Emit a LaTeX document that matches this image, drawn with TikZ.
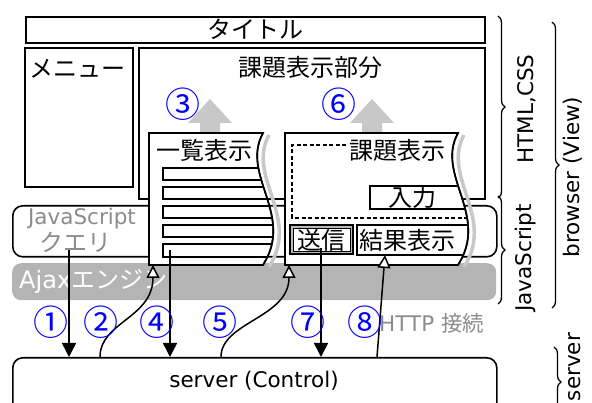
\documentclass[tikz,border=0pt]{standalone}
\usepackage{fontspec}
\setmainfont{DejaVu Sans}
\newfontfamily\jp{Noto Sans CJK JP}
\usetikzlibrary{arrows.meta,decorations.pathreplacing}
\definecolor{ajaxgray}{HTML}{B4B4B4}
\definecolor{txtgray}{HTML}{8C8C8C}
\definecolor{upgray}{HTML}{C8C8C8}
\begin{document}
\begin{tikzpicture}[x=1pt,y=-1pt,
  box/.style={draw, line width=1.6pt, fill=white, inner sep=0pt, anchor=north west},
  rbox/.style={box, rounded corners=10pt},
  jt/.style={font=\jp\fontsize{24}{26}\selectfont, inner sep=0pt},
  lt/.style={font=\fontsize{21.5}{24}\selectfont, inner sep=0pt},
  num/.style={font=\jp\fontsize{35}{36}\selectfont, text=blue, inner sep=0pt},
  sendarrow/.style={-{Triangle[width=14pt,length=14pt]}, line width=1.5pt},
  recvarrow/.style={-{Triangle[open,width=13pt,length=13pt,fill=white]}, line width=1.5pt},
  shadow/.style={draw=upgray, line width=3.5pt},
  bracestyle/.style={decorate, decoration={brace, amplitude=7pt}, line width=1.3pt},
  rot/.style={lt, rotate=90}]
\useasboundingbox (0,0) rectangle (592,403);
\clip (0,0) rectangle (592,403);

% top-level boxes
\node[box, minimum width=459pt, minimum height=26pt] (title) at (25,16) {};
\node[jt] (titletext) at (255,29) {タイトル};
\node[box, minimum width=108pt, minimum height=139pt] (menu) at (24,47) {};
\node[jt] (menutext) at (78,69) {メニュー};
\node[box, minimum width=346pt, minimum height=151pt] (main) at (138,47) {};
\node[jt] (maintext) at (310,67) {課題表示部分};

% javascript box
\node[rbox, minimum width=484pt, minimum height=51pt] (jsbox) at (12,205) {};
\node[lt, text=txtgray] (jstext) at (82,219) {JavaScript};
\node[jt, text=txtgray] (querytext) at (75,242) {クエリ};

% ajax engine bar
\node[anchor=north west, fill=ajaxgray, rounded corners=9pt, minimum width=484pt, minimum height=37pt, inner sep=0pt] (ajax) at (12,263) {};
\node[inner sep=0pt, text=white, anchor=west] (ajaxtext) at (19,281) {\fontsize{24}{26}\selectfont Ajax{\jp エンジン}};

% server
\node[rbox, minimum width=484pt, minimum height=80pt] (server) at (12,357) {};
\node[lt] (servertext) at (254,381) {server (Control)};

% gray up arrows
\fill[upgray] (200,134) -- (200,123) -- (188,123) -- (210,99) -- (232,123) -- (220,123) -- (220,134) -- cycle;
\fill[upgray] (362,134) -- (362,123) -- (350,123) -- (372,99) -- (394,123) -- (382,123) -- (382,134) -- cycle;
\node[num] (n3) at (183,104) {③};
\node[num] (n6) at (339,104) {⑥};

% panel 1 (list)
\draw[shadow] (269,135) .. controls (246,177) and (301,217) .. (269,267);
\draw[line width=1.6pt, fill=white] (149,133) -- (263,133) .. controls (240,175) and (295,215) .. (263,265) -- (149,265) -- cycle;
\begin{scope}
  \clip (149,133) -- (263,133) .. controls (240,175) and (295,215) .. (263,265) -- (149,265) -- cycle;
  \foreach \ya/\yb in {168/180,187/199,206/218,225/237,244/257}
    \draw[line width=1.4pt] (300,\ya) -- (163,\ya) -- (163,\yb) -- (300,\yb);
\end{scope}
\draw[line width=1.6pt] (263,133) .. controls (240,175) and (295,215) .. (263,265);
\node[jt] (listtext) at (204,150) {一覧表示};

% panel 2 (problem)
\draw[shadow] (464,135) .. controls (441,177) and (496,217) .. (464,267);
\draw[line width=1.6pt, fill=white] (285,133) -- (458,133) .. controls (435,175) and (490,215) .. (458,265) -- (285,265) -- cycle;
\begin{scope}
  \clip (285,133) -- (458,133) .. controls (435,175) and (490,215) .. (458,265) -- (285,265) -- cycle;
  \draw[line width=1.2pt, dash pattern=on 4pt off 2.5pt] (346,145) -- (292,145) -- (292,218) -- (500,218);
  \draw[line width=1.4pt] (370,186) rectangle (520,209);
  \draw[line width=1.4pt] (357,225) rectangle (520,255);
\end{scope}
\draw[line width=1.6pt] (458,133) .. controls (435,175) and (490,215) .. (458,265);
\node[jt] (probtext) at (397,150) {課題表示};
\node[jt] (inputtext) at (412,197) {入力};
\node[jt] (resulttext) at (407,240) {結果表示};
% send button
\draw[line width=1.4pt, fill=gray!55] (290,225) rectangle (353,254);
\draw[line width=0.8pt, fill=white] (293,228) rectangle (350,251);
\node[jt] (sendtext) at (321,240) {送信};

% connector endpoints
\coordinate (q1) at (69,250);
\coordinate (s1) at (69,357);
\coordinate (s2) at (100,357);
\coordinate (p1in) at (153,265);
\coordinate (b5) at (170,250);
\coordinate (s4) at (170,357);
\coordinate (s5) at (221,357);
\coordinate (p2in) at (289,265);
\coordinate (send) at (321,248);
\coordinate (s7) at (321,357);
\coordinate (s8) at (377,357);
\coordinate (res) at (385,255);

\draw[sendarrow] (q1) -- (s1);
\draw[recvarrow] (s2) .. controls (100,322) and (153,318) .. (p1in);
\draw[sendarrow] (b5) -- (s4);
\draw[recvarrow] (s5) .. controls (221,322) and (289,318) .. (p2in);
\draw[sendarrow] (send) -- (s7);
\draw[recvarrow] (s8) -- (res);

% numbers
\node[num] (n1) at (51,322) {①};
\node[num] (n2) at (101,322) {②};
\node[num] (n4) at (157,322) {④};
\node[num] (n5) at (220,322) {⑤};
\node[num] (n7) at (308,322) {⑦};
\node[num] (n8) at (365,322) {⑧};
\node[inner sep=0pt, anchor=west, text=txtgray] (http) at (379,323) {\fontsize{21.5}{24}\selectfont HTTP {\jp 接続}};

% braces and labels
\draw[bracestyle] (498,16) -- (498,198);
\node[rot] (htmllbl) at (527,109) {HTML,CSS};
\draw[bracestyle] (498,196) -- (498,304);
\node[rot] (jslbl) at (526,258) {JavaScript};
\draw[bracestyle] (552,22) -- (552,308);
\node[rot] (browserlbl) at (573,177) {browser (View)};
\draw[bracestyle] (554,347) -- (554,417);
\node[rot] (serverlbl) at (575,367) {server};
\end{tikzpicture}
\end{document}
